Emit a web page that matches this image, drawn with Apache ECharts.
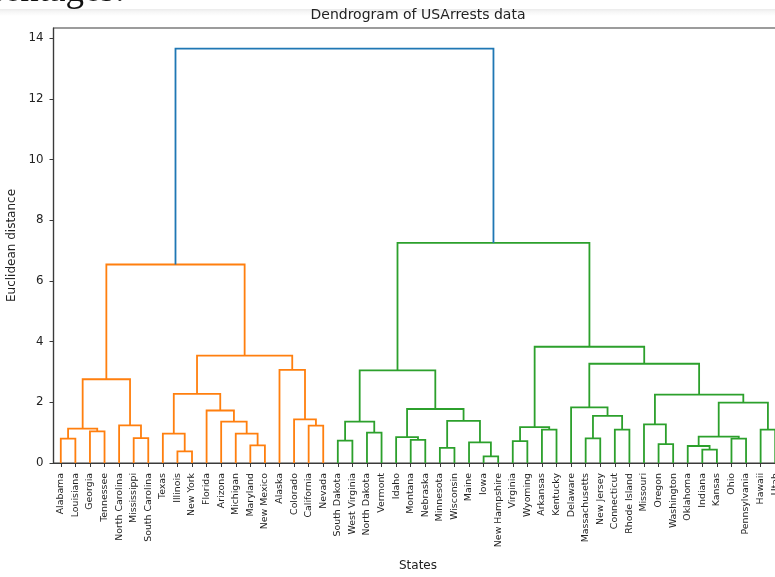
<!DOCTYPE html>
<html>
<head>
<meta charset="utf-8">
<script src="https://cdn.jsdelivr.net/npm/echarts@6/dist/echarts.min.js"></script>
<style>
  html, body { margin: 0; padding: 0; background: #ffffff; }
  #chart { width: 775px; height: 577px; }
</style>
</head>
<body>
<div id="chart"></div>
<script>
// Leaf labels in dendrogram order (left to right)
const leaves = [
  'Alabama', 'Louisiana', 'Georgia', 'Tennessee', 'North Carolina', 'Mississippi',
  'South Carolina', 'Texas', 'Illinois', 'New York', 'Florida', 'Arizona', 'Michigan',
  'Maryland', 'New Mexico', 'Alaska', 'Colorado', 'California', 'Nevada', 'South Dakota',
  'West Virginia', 'North Dakota', 'Vermont', 'Idaho', 'Montana', 'Nebraska', 'Minnesota',
  'Wisconsin', 'Maine', 'Iowa', 'New Hampshire', 'Virginia', 'Wyoming', 'Arkansas',
  'Kentucky', 'Delaware', 'Massachusetts', 'New Jersey', 'Connecticut', 'Rhode Island',
  'Missouri', 'Oregon', 'Washington', 'Oklahoma', 'Indiana', 'Kansas', 'Ohio',
  'Pennsylvania', 'Hawaii', 'Utah'
];

// Linkage: merge k joins mergeLeft[k] and mergeRight[k] at mergeHeight[k].
// Ids below 50 are leaves; id 50 + k is the cluster formed by merge k.
const mergeLeft = [
  0, 2, 50, 5, 4, 52, 8, 7, 13, 12, 11, 10, 57, 17, 16, 15, 62, 55,
  19, 21, 68, 24, 23, 26, 29, 28, 73, 72, 70,
  31, 33, 79, 36, 38, 82, 35, 41, 40, 44, 43, 46, 89, 48, 91, 87, 85, 81, 78, 67
];
const mergeRight = [
  1, 3, 51, 6, 53, 54, 9, 56, 14, 58, 59, 60, 61, 18, 63, 64, 65, 66,
  20, 22, 69, 25, 71, 27, 30, 74, 75, 76, 77,
  32, 34, 80, 37, 39, 83, 84, 42, 86, 45, 88, 47, 90, 49, 92, 93, 94, 95, 96, 97
];
const mergeHeight = [
  0.80, 1.04, 1.13, 0.82, 1.24, 2.76, 0.38, 0.97, 0.58, 0.97, 1.36, 1.73, 2.28, 1.23, 1.44, 3.07, 3.54, 6.54,
  0.74, 1.00, 1.36, 0.76, 0.85, 0.50, 0.22, 0.68, 1.39, 1.78, 3.05,
  0.72, 1.10, 1.18, 0.81, 1.10, 1.55, 1.83, 0.62, 1.27, 0.44, 0.56, 0.80, 0.87, 1.10, 1.99, 2.25, 3.27, 3.83, 7.25, 13.65
];

const yTicks = [0, 2, 4, 6, 8, 10, 12, 14];

// matplotlib-style link colours: above-threshold links in C0, clusters in C1, C2, ...
const aboveColor = '#1f77b4';
const clusterColors = ['#ff7f0e', '#2ca02c', '#d62728', '#9467bd'];

const nLeaves = leaves.length;
const maxHeight = Math.max.apply(null, mergeHeight);
const threshold = 0.7 * maxHeight;

// Node positions: leaves at 5, 15, 25, ... ; clusters centred over their children
const nodeX = [], nodeH = [];
for (let i = 0; i < nLeaves; i++) { nodeX.push(5 + 10 * i); nodeH.push(0); }
for (let k = 0; k < mergeHeight.length; k++) {
  nodeX.push((nodeX[mergeLeft[k]] + nodeX[mergeRight[k]]) / 2);
  nodeH.push(mergeHeight[k]);
}

// Colour each link by walking the tree from the root, left branch first
const linkColor = new Array(mergeHeight.length);
let nextCluster = 0;
function paint(node, color) {
  if (node < nLeaves) return;
  const k = node - nLeaves;
  let c = color;
  if (mergeHeight[k] >= threshold) {
    linkColor[k] = aboveColor;
    c = null;
  } else {
    if (c === null) { c = clusterColors[nextCluster % clusterColors.length]; nextCluster++; }
    linkColor[k] = c;
  }
  paint(mergeLeft[k], c);
  paint(mergeRight[k], c);
}
paint(nLeaves + mergeHeight.length - 1, null);

const linkData = mergeHeight.map(function (h, k) {
  const a = mergeLeft[k], b = mergeRight[k];
  return [nodeX[a], nodeX[b], nodeH[a], nodeH[b], h, k];
});

const textColor = '#222222';
const spineColor = '#3a3a3a';
const font = 'DejaVu Sans';

const chart = echarts.init(document.getElementById('chart'), null, { renderer: 'canvas' });
chart.setOption({
  backgroundColor: '#ffffff',
  animation: false,
  graphic: [
    {
      // heading of the cell above, cut off by the output area
      type: 'text', z: 1,
      style: {
        text: 'Percentages:', x: 125, y: -9,
        align: 'right', verticalAlign: 'middle',
        font: 'normal 37px "Liberation Serif"', fill: '#111111'
      }
    },
    {
      type: 'rect', left: 0, top: 9, z: 2,
      shape: { width: 775, height: 7 },
      style: {
        fill: new echarts.graphic.LinearGradient(0, 0, 0, 1, [
          { offset: 0, color: '#ebebeb' }, { offset: 0.4, color: '#f6f6f6' }, { offset: 1, color: '#ffffff' }
        ])
      }
    },
    {
      type: 'text', z: 10,
      style: {
        text: 'Dendrogram of USArrests data', x: 418, y: 15,
        align: 'center', verticalAlign: 'middle',
        font: 'normal 14px "DejaVu Sans"', fill: textColor
      }
    }
  ],
  grid: {
    left: 53.5, top: 28, width: 729, height: 435,
    show: true, borderColor: spineColor, borderWidth: 1.2,
    backgroundColor: 'transparent',
    outerBoundsMode: 'none', containLabel: false
  },
  xAxis: [
    {
      type: 'category', data: leaves, boundaryGap: true,
      name: 'States', nameLocation: 'middle', nameGap: 97,
      nameTextStyle: { fontFamily: font, fontSize: 12, color: textColor },
      axisLine: { show: true, lineStyle: { color: spineColor, width: 1.2 } },
      axisTick: { show: true, alignWithLabel: true, length: 4, lineStyle: { color: spineColor, width: 1 } },
      axisLabel: {
        interval: 0, rotate: 90, margin: 10, hideOverlap: false,
        fontFamily: font, fontSize: 9.4, color: textColor
      },
      splitLine: { show: false }
    },
    {
      type: 'value', min: 0, max: nLeaves * 10, show: false, position: 'bottom'
    }
  ],
  yAxis: {
    type: 'value', min: 0, max: maxHeight * 1.05,
    name: 'Euclidean distance', nameLocation: 'middle', nameGap: 27,
    nameTextStyle: { fontFamily: font, fontSize: 12, color: textColor },
    axisLine: { show: true, lineStyle: { color: spineColor, width: 1.2 } },
    axisTick: { show: true, length: 4, customValues: yTicks, lineStyle: { color: spineColor, width: 1 } },
    axisLabel: {
      customValues: yTicks, margin: 10,
      fontFamily: font, fontSize: 11.8, color: textColor
    },
    splitLine: { show: false }
  },
  series: [{
    type: 'custom',
    xAxisIndex: 1,
    yAxisIndex: 0,
    clip: false,
    data: linkData,
    encode: { x: [0, 1], y: [2, 3, 4] },
    renderItem: function (params, api) {
      const xl = api.value(0), xr = api.value(1);
      const hl = api.value(2), hr = api.value(3), h = api.value(4);
      const k = api.value(5);
      return {
        type: 'polyline',
        shape: { points: [api.coord([xl, hl]), api.coord([xl, h]), api.coord([xr, h]), api.coord([xr, hr])] },
        style: { stroke: linkColor[k], fill: null, lineWidth: 1.8, lineJoin: 'miter' }
      };
    }
  }]
});
</script>
</body>
</html>
